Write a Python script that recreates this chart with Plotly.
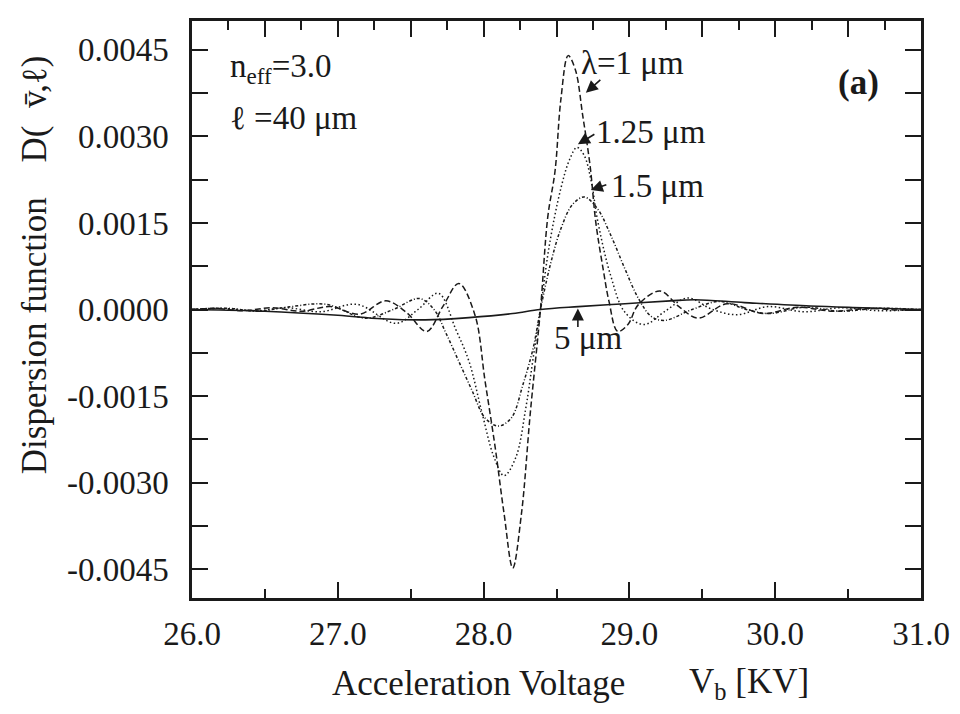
import plotly.graph_objects as go

# ---------------- data ----------------
x_l1 = [26.0, 26.15, 26.35, 26.55, 26.75, 26.95, 27.15, 27.33, 27.47, 27.61, 27.72, 27.83,
        27.94, 28.01, 28.08, 28.14, 28.20, 28.26, 28.32, 28.39, 28.44, 28.49, 28.53, 28.58,
        28.63, 28.68, 28.73, 28.77, 28.82, 28.86, 28.92, 28.99, 29.06, 29.21, 29.34, 29.47,
        29.67, 29.92, 30.15, 30.40, 30.65, 30.85, 31.0]
y_l1 = [0.0, 0.00002, -0.00002, 0.00003, -0.00003, 0.00005, -0.00008, 0.00015, -0.00005, -0.00038, 0.00005, 0.00045,
        -0.00009, -0.00124, -0.0024, -0.00353, -0.00448, -0.00353, -0.0018, 0.0, 0.0016, 0.0024, 0.00364, 0.0044,
        0.00415, 0.00336, 0.0025, 0.0015, 0.0007, 0.00014, -0.00038, -0.00026, 0.00008, 0.00032, 0.00005, -0.00015,
        0.0001, -0.00007, 0.00004, -0.00003, 0.00002, -0.00001, 0.0]

x_l125 = [26.0, 26.2, 26.45, 26.65, 26.88, 27.13, 27.40, 27.55, 27.69, 27.81, 27.90, 27.99,
          28.07, 28.14, 28.22, 28.29, 28.34, 28.39, 28.45, 28.53, 28.59, 28.64, 28.69, 28.74,
          28.78, 28.87, 28.97, 29.10, 29.25, 29.40, 29.57, 29.74, 29.95, 30.2, 30.45, 30.7, 31.0]
y_l125 = [0.0, 0.00002, -0.00002, 0.00003, -0.00004, 0.00009, -0.00024, 0.0, 0.00028, -0.00035, -0.0009, -0.0018,
          -0.00255, -0.00288, -0.00257, -0.0017, -0.00084, 0.0, 0.0011, 0.0021, 0.0026, 0.00281, 0.00267, 0.0022,
          0.00157, 0.0006, -0.00005, -0.00026, -0.00002, 0.0002, 0.0, -0.00009, 0.00005, -0.00004, 0.00003, -0.00002, 0.0]

x_l15 = [26.0, 26.25, 26.45, 26.65, 26.92, 27.19, 27.38, 27.56, 27.66, 27.74, 27.83, 27.92,
         28.01, 28.10, 28.19, 28.27, 28.34, 28.39, 28.46, 28.53, 28.61, 28.69, 28.78, 28.87,
         28.97, 29.06, 29.15, 29.24, 29.43, 29.62, 29.80, 29.96, 30.2, 30.45, 30.7, 31.0]
y_l15 = [0.0, 0.00002, -0.00003, 0.00004, 0.00009, -0.00015, 0.0, 0.00019, 0.0, -0.0004, -0.0009, -0.0014,
         -0.00188, -0.00202, -0.00188, -0.0013, -0.00067, 0.0, 0.0008, 0.0014, 0.00182, 0.00195, 0.00175, 0.0013,
         0.0007, 0.0002, -0.00012, -0.00019, 0.0, 0.00014, 0.0, -0.00007, 0.00004, -0.00003, 0.00002, 0.0]

x_l5 = [26.0, 26.5, 27.0, 27.3, 27.6, 27.9, 28.2, 28.39, 28.65, 28.97, 29.28, 29.45, 29.79, 30.24, 30.6, 31.0]
y_l5 = [0.0, -0.00003, -0.0001, -0.00016, -0.00018, -0.00014, -0.00007, 0.0, 0.00005, 0.0001, 0.00015, 0.00017,
        0.00012, 0.00006, 0.00003, 0.0]

x_ticks = [26.0, 27.0, 28.0, 29.0, 30.0, 31.0]
x_ticktext = ["26.0", "27.0", "28.0", "29.0", "30.0", "31.0"]
y_ticks = [-0.0045, -0.0030, -0.0015, 0.0, 0.0015, 0.0030, 0.0045]
y_ticktext = ["-0.0045", "-0.0030", "-0.0015", "0.0000", "0.0015", "0.0030", "0.0045"]

# ---------------- geometry helpers ----------------
# The page body has an 8px default margin, so the figure is drawn 8px in from the
# window's top-left corner; sizes/margins below compensate for that.
OFF = 8
W, H = 960 - OFF, 714 - OFF
L, R, T, B = 192 - OFF, 35, 18 - OFF, 116
PW, PH = W - L - R, H - T - B
XR = [26.0, 31.0]
YR = [-0.005, 0.005]


def xp(px):  # window pixel -> paper x
    return (px - OFF - L) / PW


def yp(py):  # window pixel -> paper y
    return (H - B - (py - OFF)) / PH


def xd(px):
    return XR[0] + xp(px) * (XR[1] - XR[0])


def yd(py):
    return YR[0] + yp(py) * (YR[1] - YR[0])


FONT = "Liberation Serif"
INK = "#1a1a1a"

fig = go.Figure()
fig.add_trace(go.Scatter(x=x_l5, y=y_l5, mode="lines", line=dict(color=INK, width=1.6, shape="spline"),
                         showlegend=False, hoverinfo="skip"))
fig.add_trace(go.Scatter(x=x_l15, y=y_l15, mode="lines",
                         line=dict(color=INK, width=1.5, dash="3px,2px,1px,2px", shape="spline"),
                         showlegend=False, hoverinfo="skip"))
fig.add_trace(go.Scatter(x=x_l125, y=y_l125, mode="lines",
                         line=dict(color=INK, width=1.5, dash="1.5px,2.5px", shape="spline"),
                         showlegend=False, hoverinfo="skip"))
fig.add_trace(go.Scatter(x=x_l1, y=y_l1, mode="lines",
                         line=dict(color=INK, width=1.5, dash="6px,3px", shape="spline"),
                         showlegend=False, hoverinfo="skip"))
# invisible trace to carry the top tick axis
fig.add_trace(go.Scatter(x=x_l5, y=y_l5, mode="lines", line=dict(width=0), opacity=0,
                         xaxis="x2", showlegend=False, hoverinfo="skip"))

tickfont = dict(family=FONT, size=33, color=INK)

fig.update_layout(
    width=W, height=H, autosize=False,
    margin=dict(l=L, r=R, t=T, b=B, pad=0),
    paper_bgcolor="white", plot_bgcolor="white",
    xaxis=dict(range=XR, tickmode="array", tickvals=x_ticks, ticktext=x_ticktext,
               ticks="inside", ticklen=16, tickwidth=2, tickcolor=INK,
               minor=dict(tickmode="linear", tick0=26.0, dtick=0.5, ticks="inside", ticklen=9,
                          tickwidth=2, tickcolor=INK, showgrid=False),
               showline=True, linewidth=2.5, linecolor=INK, mirror=True,
               showgrid=False, zeroline=False, tickfont=tickfont, ticklabelstandoff=5),
    xaxis2=dict(range=XR, overlaying="x", side="top", tickmode="linear", tick0=26.0, dtick=0.5,
                ticks="inside", ticklen=16, tickwidth=2, tickcolor=INK,
                minor=dict(tickmode="linear", tick0=26.0, dtick=0.25, ticks="inside", ticklen=9,
                           tickwidth=2, tickcolor=INK, showgrid=False),
                showticklabels=False, showline=False, showgrid=False, zeroline=False),
    yaxis=dict(range=YR, tickmode="array", tickvals=y_ticks, ticktext=y_ticktext,
               ticks="inside", ticklen=16, tickwidth=2, tickcolor=INK,
               minor=dict(tickmode="linear", tick0=0.0, dtick=0.00075, ticks="inside", ticklen=9,
                          tickwidth=2, tickcolor=INK, showgrid=False),
               showline=True, linewidth=2.5, linecolor=INK, mirror="allticks",
               showgrid=False, zeroline=False, tickfont=tickfont, ticklabelstandoff=14),
)

txt = dict(family=FONT, size=33, color=INK)
ann = []
# axis titles
ann.append(dict(text="Acceleration Voltage", xref="paper", yref="paper", x=xp(480), y=yp(684),
                xanchor="center", yanchor="middle", showarrow=False, font=dict(family=FONT, size=35, color=INK)))
ann.append(dict(text="V<sub>b</sub> [KV]", xref="paper", yref="paper", x=xp(690), y=yp(684),
                xanchor="left", yanchor="middle", showarrow=False, font=dict(family=FONT, size=35, color=INK)))
ann.append(dict(text="Dispersion function", xref="paper", yref="paper", x=xp(34), y=yp(334),
                xanchor="center", yanchor="middle", textangle=-90, showarrow=False,
                font=dict(family=FONT, size=35, color=INK)))
ann.append(dict(text="D(  v\u0304,\u2113)", xref="paper", yref="paper", x=xp(34), y=yp(106),
                xanchor="center", yanchor="middle", textangle=-90, showarrow=False,
                font=dict(family=FONT, size=35, color=INK)))
# in-plot texts
ann.append(dict(text="n<sub>eff</sub>=3.0", xref="paper", yref="paper", x=xp(228), y=yp(66),
                xanchor="left", yanchor="middle", showarrow=False, font=txt))
ann.append(dict(text="\u2113 =40 \u03bcm", xref="paper", yref="paper", x=xp(228), y=yp(116),
                xanchor="left", yanchor="middle", showarrow=False, font=txt))
ann.append(dict(text="<b>(a)</b>", xref="paper", yref="paper", x=xp(862), y=yp(80),
                xanchor="center", yanchor="middle", showarrow=False, font=dict(family=FONT, size=35, color=INK)))
ann.append(dict(text="\u03bb=1 \u03bcm", xref="paper", yref="paper", x=xp(581), y=yp(60),
                xanchor="left", yanchor="middle", showarrow=False, font=txt))
ann.append(dict(text="1.25 \u03bcm", xref="paper", yref="paper", x=xp(596), y=yp(130),
                xanchor="left", yanchor="middle", showarrow=False, font=txt))
ann.append(dict(text="1.5 \u03bcm", xref="paper", yref="paper", x=xp(611), y=yp(184),
                xanchor="left", yanchor="middle", showarrow=False, font=txt))
ann.append(dict(text="5 \u03bcm", xref="paper", yref="paper", x=xp(554), y=yp(337),
                xanchor="left", yanchor="middle", showarrow=False, font=txt))
# arrows (head at curve, tail near label)
for hx, hy, tx, ty in [(588, 90, 604, 76), (580, 142, 598, 131), (593, 188, 610, 182), (580, 307, 580, 327)]:
    ann.append(dict(text="", x=xd(hx), y=yd(hy), xref="x", yref="y", ax=tx - hx, ay=ty - hy,
                    axref="pixel", ayref="pixel", showarrow=True, arrowhead=2, arrowsize=1.5,
                    arrowwidth=1.6, arrowcolor=INK, standoff=0, startstandoff=0))
fig.update_layout(annotations=ann)

fig.write_html("out.html")
